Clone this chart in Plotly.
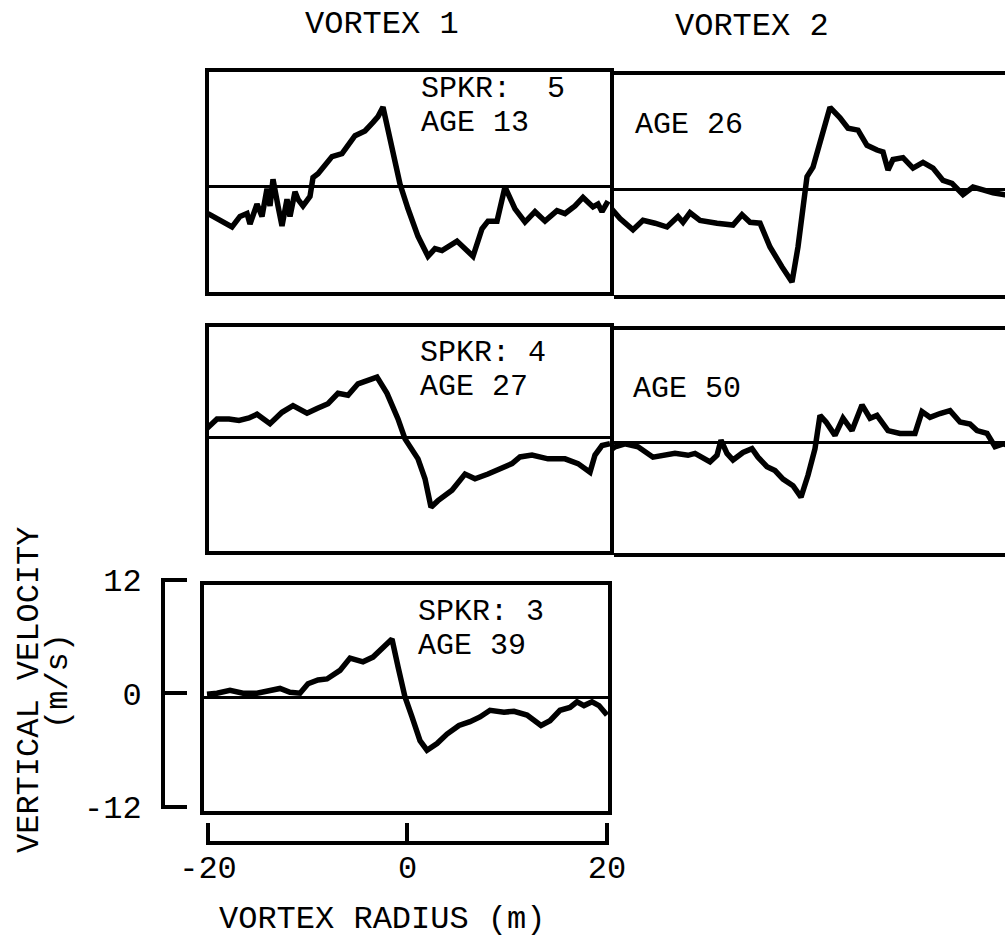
import plotly.graph_objects as go

# ---------------- data ----------------
# Row 1, vortex 1 (SPKR 5, age 13)
r_spkr5_age13 = [-19.9, -18.9, -17.5, -16.7, -16.0, -15.7, -15.0, -14.5, -14.0, -13.7, -13.4, -12.9,
                 -12.5, -12.0, -11.7, -11.2, -10.9, -10.4, -9.7, -9.4, -8.9, -7.5, -6.5, -5.2, -4.2,
                 -3.4, -2.9, -2.4, -1.4, -0.7, 0.1, 1.1, 2.1, 2.8, 3.5, 5.0, 6.6, 7.5, 8.1, 9.0, 9.8,
                 10.8, 11.8, 12.8, 13.8, 15.0, 15.8, 16.8, 17.6, 18.6, 19.1, 19.5, 20.1]
w_spkr5_age13 = [-2.9, -3.5, -4.3, -3.2, -2.9, -4.0, -1.9, -3.2, -0.3, -2.1, 0.7, -2.1,
                 -4.2, -1.4, -3.2, -0.6, -1.4, -2.1, -1.1, 0.9, 1.3, 3.1, 3.4, 5.3, 5.8,
                 6.7, 7.3, 8.3, 3.2, 0.2, -2.4, -5.3, -7.4, -6.6, -6.8, -5.8, -7.4, -4.5, -3.7, -3.7, -0.1,
                 -2.4, -3.8, -2.7, -3.7, -2.6, -2.9, -2.1, -1.2, -2.2, -1.9, -2.7, -1.6]

# Row 1, vortex 2 (age 26)
r_spkr5_age26 = [-20.3, -19.3, -18.0, -17.0, -15.8, -14.6, -13.5, -13.0, -12.3, -11.3, -9.6, -8.0,
                 -7.1, -6.3, -5.3, -4.3, -3.1, -2.1, -1.5, -1.0, -0.6, 0.0, 0.9, 1.7, 2.7, 3.5, 4.5,
                 5.4, 6.4, 7.0, 7.5, 8.0, 9.0, 10.0, 11.0, 12.0, 13.0, 13.9, 15.0, 16.0, 17.0, 18.0,
                 19.2, 19.8]
w_spkr5_age26 = [-1.9, -3.1, -4.3, -3.3, -3.6, -4.0, -2.9, -3.5, -2.5, -3.3, -3.6, -3.8,
                 -2.7, -3.5, -3.6, -6.1, -8.2, -9.8, -6.1, -1.5, 1.3, 2.3, 5.5, 8.6, 7.5, 6.4, 6.2,
                 4.6, 4.1, 3.9, 2.0, 3.1, 3.3, 2.2, 2.8, 2.2, 0.9, 0.6, -0.6, 0.2, -0.1, -0.4,
                 -0.6, -0.7]

# Row 2, vortex 1 (SPKR 4, age 27)
r_spkr4_age27 = [-20.0, -19.0, -17.8, -16.8, -15.8, -15.0, -13.7, -12.5, -11.4, -10.0, -9.0, -7.9,
                 -6.9, -5.9, -4.9, -3.9, -3.0, -2.0, -0.9, -0.2, 0.3, 1.1, 1.8, 2.4, 3.1, 4.5, 5.8,
                 6.8, 8.1, 9.5, 10.5, 11.3, 12.5, 14.1, 15.8, 17.1, 18.3, 18.8, 19.5, 20.3]
w_spkr4_age27 = [0.9, 1.9, 1.9, 1.75, 2.0, 2.4, 1.4, 2.6, 3.3, 2.5, 3.0, 3.5,
                 4.6, 4.4, 5.6, 6.0, 6.3, 4.6, 1.9, -0.2, -1.1, -2.3, -4.4, -7.4, -6.7, -5.6, -3.9,
                 -4.4, -3.9, -3.3, -2.8, -2.1, -1.9, -2.3, -2.3, -2.8, -3.7, -1.9, -0.9, -0.7]

# Row 2, vortex 2 (age 50)
r_spkr4_age50 = [-20.3, -19.8, -18.8, -17.5, -16.0, -15.0, -13.8, -12.5, -11.8, -10.3, -9.6, -9.2,
                 -8.6, -8.0, -7.0, -6.1, -5.5, -4.6, -3.8, -3.0, -2.0, -1.2, -0.5, 0.2, 0.7, 1.3,
                 2.2, 3.0, 3.9, 4.9, 5.7, 6.4, 7.5, 8.7, 10.2, 10.9, 11.7, 12.7, 13.7, 14.7, 15.7,
                 16.4, 17.4, 18.2, 19.0, 19.8]
w_spkr4_age50 = [-0.9, -0.5, -0.2, -0.5, -1.6, -1.4, -1.2, -1.4, -1.2, -2.1, -1.4, 0.2,
                 -1.2, -1.9, -1.1, -0.7, -1.6, -2.6, -3.0, -3.9, -4.6, -5.8, -3.5, -0.7, 2.8, 2.1,
                 0.7, 2.5, 1.2, 3.9, 2.5, 2.8, 1.2, 0.9, 0.9, 3.2, 2.6, 3.0, 3.3, 2.1, 1.9,
                 1.2, 0.9, -0.5, -0.2, -0.4]

# Row 3, vortex 1 (SPKR 3, age 39)
r_spkr3_age39 = [-20.0, -19.0, -17.7, -16.4, -15.0, -13.9, -12.7, -11.7, -10.7, -9.9, -8.9, -8.0,
                 -6.7, -5.7, -4.4, -3.4, -2.4, -1.5, -0.9, -0.2, 0.5, 1.3, 2.0, 3.0, 4.0, 5.2, 6.3,
                 7.3, 8.3, 9.7, 10.7, 12.0, 13.4, 14.3, 15.3, 16.3, 17.0, 17.7, 18.5, 19.2, 20.0]
w_spkr3_age39 = [0.3, 0.4, 0.7, 0.4, 0.4, 0.6, 0.9, 0.5, 0.4, 1.4, 1.8, 1.9,
                 2.8, 4.1, 3.7, 4.2, 5.3, 6.1, 3.2, 0.0, -2.1, -4.6, -5.6, -4.9, -3.9, -3.0, -2.6,
                 -2.1, -1.4, -1.6, -1.5, -1.9, -3.0, -2.5, -1.4, -1.1, -0.5, -0.9, -0.5, -0.9, -1.9]

column_titles = ["VORTEX 1", "VORTEX 2"]
panel_labels = [["SPKR:  5", "AGE 13"], ["AGE 26"], ["SPKR: 4", "AGE 27"], ["AGE 50"], ["SPKR: 3", "AGE 39"]]
y_tick_vals = [-12, 0, 12]
y_tick_text = ["-12", "0", "12"]
x_tick_vals = [-20, 0, 20]
x_tick_text = ["-20", "0", "20"]
y_title = ["VERTICAL VELOCITY", "(m/s)"]
x_title = "VORTEX RADIUS (m)"

# ---------------- layout geometry (pixels) ----------------
W, H = 1005, 941
SX, SY = 10.0, 9.5      # px per metre, px per m/s
LW = 4                  # frame line width
FAM = "Liberation Mono, Courier New, monospace"
FONT = dict(family=FAM, size=32, color="black")
LABEL_FONT = dict(family=FAM, size=30, color="black")


def px(x):
    return x / W


def py(y):
    return 1 - y / H


# box: left, right (None = runs off the page), top, bottom (line centres); x0/y0: pixel of data zero
panels = [
    dict(r=r_spkr5_age13, w=w_spkr5_age13, L=207, R=612, T=70, B=294, x0=407, y0=186, frame=True),
    dict(r=r_spkr5_age26, w=w_spkr5_age26, L=612, R=None, T=73, B=297, x0=813, y0=189, frame=False),
    dict(r=r_spkr4_age27, w=w_spkr4_age27, L=207, R=612, T=325, B=553, x0=407, y0=437, frame=True),
    dict(r=r_spkr4_age50, w=w_spkr4_age50, L=612, R=None, T=328, B=555, x0=813, y0=442, frame=False),
    dict(r=r_spkr3_age39, w=w_spkr3_age39, L=202, R=610, T=583, B=813, x0=407, y0=697, frame=True),
]

fig = go.Figure()
layout = {}
for i, p in enumerate(panels, start=1):
    xl = p["L"] + LW / 2
    xr = (p["R"] - LW / 2) if p["R"] is not None else W
    yt = p["T"] + LW / 2
    yb = p["B"] - LW / 2
    sfx = "" if i == 1 else str(i)
    layout["xaxis" + sfx] = dict(
        domain=[px(xl), px(xr)], range=[(xl - p["x0"]) / SX, (xr - p["x0"]) / SX],
        anchor="y" + sfx, showline=True, mirror=True, linewidth=LW, linecolor="black",
        showgrid=False, zeroline=False, showticklabels=False, ticks="", fixedrange=True,
        automargin=False)
    layout["yaxis" + sfx] = dict(
        domain=[py(yb), py(yt)], range=[(p["y0"] - yb) / SY, (p["y0"] - yt) / SY],
        anchor="x" + sfx, showline=p["frame"], mirror=p["frame"], linewidth=LW, linecolor="black",
        showgrid=False, zeroline=True, zerolinewidth=2.5, zerolinecolor="black",
        showticklabels=False, ticks="", fixedrange=True, automargin=False)
    fig.add_trace(go.Scatter(x=p["r"], y=p["w"], mode="lines",
                             line=dict(color="black", width=5.5),
                             xaxis="x" + sfx, yaxis="y" + sfx, showlegend=False, hoverinfo="skip"))

# scale brackets (free axes) for the bottom panel; range padded a little so end ticks are kept
YPAD, XPAD = 0.25, 0.25
y_span = (807 - 580) / 24.0
x_span = (607 - 208) / 40.0
layout["yaxis6"] = dict(domain=[py(807 + YPAD * y_span), py(580 - YPAD * y_span)],
                        range=[-12 - YPAD, 12 + YPAD], anchor="free", position=px(163),
                        showline=True, linewidth=LW, linecolor="black", ticks="inside", ticklen=22,
                        tickwidth=LW, tickcolor="black", tickvals=y_tick_vals, ticktext=y_tick_text,
                        tickfont=FONT, ticklabelstandoff=13, showgrid=False, zeroline=False,
                        fixedrange=True, automargin=False)
layout["xaxis6"] = dict(domain=[px(208 - XPAD * x_span), px(607 + XPAD * x_span)],
                        range=[-20 - XPAD, 20 + XPAD], anchor="free", position=py(843),
                        showline=True, linewidth=LW, linecolor="black", ticks="inside", ticklen=18,
                        tickwidth=LW, tickcolor="black", tickvals=x_tick_vals, ticktext=x_tick_text,
                        tickfont=FONT, ticklabelstandoff=-5, showgrid=False, zeroline=False,
                        fixedrange=True, automargin=False)
fig.add_trace(go.Scatter(x=[0], y=[0], mode="markers", marker=dict(opacity=0), xaxis="x5", yaxis="y6",
                         showlegend=False, hoverinfo="skip"))
fig.add_trace(go.Scatter(x=[0], y=[0], mode="markers", marker=dict(opacity=0), xaxis="x6", yaxis="y5",
                         showlegend=False, hoverinfo="skip"))

annotations = []


def text(t, x, y, xanchor="left", angle=0, font=FONT):
    annotations.append(dict(text=t, x=px(x), y=py(y), xref="paper", yref="paper", showarrow=False,
                            xanchor=xanchor, yanchor="middle", font=font, textangle=angle,
                            borderpad=0, borderwidth=0))


text(column_titles[0], 382, 24, "center")
text(column_titles[1], 752, 27, "center")
label_pos = [[(421, 89), (421, 123)], [(635, 125)], [(420, 353), (420, 387)], [(633, 389)],
             [(418, 612), (418, 646)]]
for labels, pos in zip(panel_labels, label_pos):
    for t, (x, y) in zip(labels, pos):
        text(t, x, y, font=LABEL_FONT)
text(y_title[0], 29, 690, "center", -90)
text(y_title[1], 58, 681, "center", -90)
text(x_title, 382, 919, "center")

fig.update_layout(width=W, height=H, margin=dict(l=0, r=0, t=0, b=0, pad=0), autosize=False,
                  paper_bgcolor="white", plot_bgcolor="rgba(0,0,0,0)", showlegend=False,
                  annotations=annotations, font=FONT, **layout)
fig.write_html("out.html", config={"displayModeBar": False})
